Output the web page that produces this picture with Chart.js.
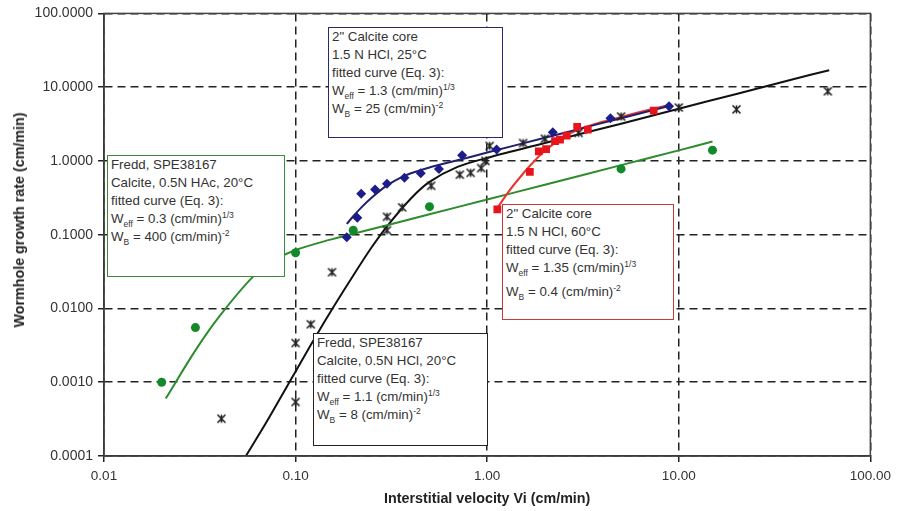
<!DOCTYPE html>
<html>
<head>
<meta charset="utf-8">
<script src="https://cdn.jsdelivr.net/npm/chart.js@4.4.0/dist/chart.umd.min.js"></script>
<style>
body { margin: 0; background: #fff; }
#wrap { position: relative; width: 897px; height: 511px; }
#chart { position: absolute; left: 0; top: 0; }
.note {
    position: absolute;
    background: #fff;
    box-sizing: border-box;
    font: 13.3px "Liberation Sans", Arial, sans-serif;
    color: #333;
    line-height: 18px;
    padding: 0 0 0 3px;
    white-space: nowrap;
}
.note sub, .note sup { font-size: 8.5px; line-height: 0; }
#ytitle {
    position: absolute;
    left: 19px;
    top: 220px;
    transform: translate(-50%, -50%) rotate(-90deg);
    font: bold 14.3px "Liberation Sans", Arial, sans-serif;
    color: #222;
    white-space: nowrap;
}
</style>
</head>
<body>
<div id="wrap">
    <canvas id="chart" width="897" height="511"></canvas>
    <div id="ytitle">Wormhole growth rate (cm/min)</div>
    <div class="note" style="left:107px;top:155px;width:178px;height:122px;border:1.5px solid #3a8a3a;">
        Fredd, SPE38167<br>Calcite, 0.5N HAc, 20°C<br>fitted curve (Eq. 3):<br>
        W<sub>eff</sub> = 0.3 (cm/min)<sup>1/3</sup><br>W<sub>B</sub> = 400 (cm/min)<sup>-2</sup>
    </div>
    <div class="note" style="left:328px;top:27px;width:175px;height:111px;border:1.5px solid #2a2a6a;">
        2" Calcite core<br>1.5 N HCl, 25°C<br>fitted curve (Eq. 3):<br>
        W<sub>eff</sub> = 1.3 (cm/min)<sup>1/3</sup><br>W<sub>B</sub> = 25 (cm/min)<sup>-2</sup>
    </div>
    <div class="note" style="left:502px;top:204px;width:172px;height:116px;border:1.5px solid #c83a3a;">
        2" Calcite core<br>1.5 N HCl, 60°C<br>fitted curve (Eq. 3):<br>
        W<sub>eff</sub> = 1.35 (cm/min)<sup>1/3</sup><br><span style="display:inline-block;margin-top:6px;">W<sub>B</sub> = 0.4 (cm/min)<sup>-2</sup></span>
    </div>
    <div class="note" style="left:313px;top:333px;width:175px;height:113px;border:1.5px solid #222;">
        Fredd, SPE38167<br>Calcite, 0.5N HCl, 20°C<br>fitted curve (Eq. 3):<br>
        W<sub>eff</sub> = 1.1 (cm/min)<sup>1/3</sup><br>W<sub>B</sub> = 8 (cm/min)<sup>-2</sup>
    </div>
</div>
<script>
// axis ticks
const xTicks = [0.01, 0.1, 1, 10, 100];
const yTicks = [0.0001, 0.001, 0.01, 0.1, 1, 10, 100];

// Fredd 0.5N HAc (green)
const hacX = [0.02, 0.03, 0.1, 0.2, 0.5, 5, 15];
const hacY = [0.001, 0.0055, 0.057, 0.115, 0.24, 0.78, 1.4];
const hacFitX = [0.021, 0.03, 0.04, 0.06, 0.08, 0.1, 0.15, 0.2, 0.3, 0.5, 1, 2, 5, 10, 15];
const hacFitY = [0.0006, 0.0027, 0.0078, 0.027, 0.047, 0.062, 0.085, 0.103, 0.134, 0.189, 0.3, 0.476, 0.877, 1.39, 1.83];

// 2" core, 25C (blue)
const c25X = [0.185, 0.21, 0.22, 0.26, 0.3, 0.37, 0.45, 0.56, 0.74, 1.12, 2.2, 4.4, 8.9];
const c25Y = [0.092, 0.17, 0.36, 0.41, 0.49, 0.59, 0.68, 0.78, 1.19, 1.43, 2.45, 3.8, 5.5];
const c25FitX = [0.185, 0.2, 0.22, 0.25, 0.3, 0.35, 0.4, 0.5, 0.7, 1, 2, 3, 5, 9];
const c25FitY = [0.14, 0.178, 0.233, 0.32, 0.467, 0.586, 0.68, 0.816, 1.02, 1.3, 2.06, 2.7, 3.8, 5.6];

// 2" core, 60C (red)
const c60X = [1.13, 1.67, 1.86, 2.03, 2.26, 2.4, 2.6, 2.95, 3.35, 7.4];
const c60Y = [0.22, 0.71, 1.35, 1.45, 1.85, 1.95, 2.2, 2.9, 2.65, 4.8];
const c60FitX = [1.13, 1.3, 1.5, 1.7, 2, 2.5, 3, 4, 5, 7, 9];
const c60FitY = [0.23, 0.39, 0.62, 0.9, 1.37, 2.1, 2.66, 3.39, 3.95, 4.94, 5.8];

// Fredd 0.5N HCl (black)
const hclX = [0.041, 0.1, 0.1, 0.12, 0.155, 0.3, 0.3, 0.36, 0.51, 0.72, 0.82, 0.93, 0.98, 1.03, 1.54, 2.0, 3.0, 5.0, 10, 20, 60];
const hclY = [0.00032, 0.0034, 0.00054, 0.0061, 0.031, 0.175, 0.115, 0.235, 0.46, 0.65, 0.69, 0.8, 1.0, 1.6, 1.75, 2.0, 2.4, 4.0, 5.3, 5.0, 8.8];
const hclFitX = [0.055, 0.07, 0.09, 0.1, 0.12, 0.15, 0.2, 0.25, 0.3, 0.4, 0.5, 0.7, 1, 2, 5, 10, 20, 40, 61];
const hclFitY = [0.0001, 0.00028, 0.00087, 0.0014, 0.0032, 0.0085, 0.028, 0.068, 0.13, 0.31, 0.52, 0.83, 1.1, 1.75, 3.2, 5.1, 8.1, 12.9, 17];

const pts = (xs, ys) => xs.map((x, i) => ({ x: x, y: ys[i] }));

// Excel-like star marker (X with vertical bar)
function starMark(size, color) {
    const c = document.createElement('canvas');
    c.width = size;
    c.height = size;
    const g = c.getContext('2d');
    g.strokeStyle = color;
    g.lineWidth = 1.6;
    const a = 1.5, b = size - 1.5, h = size / 2;
    g.beginPath();
    g.moveTo(a, a); g.lineTo(b, b);
    g.moveTo(b, a); g.lineTo(a, b);
    g.moveTo(h, a); g.lineTo(h, b);
    g.stroke();
    return c;
}

// solid frame round the plot area
const framePlugin = {
    id: 'frame',
    afterDraw(chart) {
        const { ctx, chartArea: a } = chart;
        ctx.save();
        ctx.strokeStyle = '#444';
        ctx.lineWidth = 1.5;
        ctx.strokeRect(a.left, a.top, a.right - a.left, a.bottom - a.top);
        ctx.restore();
    }
};

const markerSet = (label, xs, ys, style, color, radius) => ({
    label: label,
    data: pts(xs, ys),
    showLine: false,
    pointStyle: style,
    pointRadius: radius,
    backgroundColor: color,
    borderColor: color,
    borderWidth: 0
});

const lineSet = (label, xs, ys, color) => ({
    label: label,
    data: pts(xs, ys),
    showLine: true,
    pointRadius: 0,
    borderColor: color,
    borderWidth: 2,
    tension: 0.3,
    fill: false
});

const ctx = document.getElementById('chart').getContext('2d');
new Chart(ctx, {
    type: 'scatter',
    data: {
        datasets: [
            markerSet('25C data', c25X, c25Y, 'rectRot', '#1c1c8c', 5),
            markerSet('60C data', c60X, c60Y, 'rect', '#e8141c', 5.5),
            markerSet('HAc data', hacX, hacY, 'circle', '#128a28', 4.5),
            markerSet('HCl data', hclX, hclY, starMark(11, '#222'), '#222', 5.5),
            lineSet('25C fit', c25FitX, c25FitY, '#20206e'),
            lineSet('60C fit', c60FitX, c60FitY, '#e8332e'),
            lineSet('HAc fit', hacFitX, hacFitY, '#2e8b2e'),
            lineSet('HCl fit', hclFitX, hclFitY, '#111')
        ]
    },
    options: {
        responsive: false,
        animation: false,
        layout: { padding: { top: 9, right: 23, bottom: 0, left: 0 } },
        plugins: {
            legend: { display: false },
            tooltip: { enabled: false }
        },
        scales: {
            x: {
                type: 'logarithmic',
                min: 0.01,
                max: 100,
                afterBuildTicks: s => { s.ticks = xTicks.map(v => ({ value: v })); },
                afterFit: s => { s.height = 55; },
                ticks: {
                    callback: v => Number(v).toFixed(2),
                    font: { family: 'Liberation Sans', size: 13.5 },
                    color: '#333',
                    padding: 6,
                    autoSkip: false,
                    maxRotation: 0
                },
                grid: { color: '#222', lineWidth: 1.5, tickLength: 6, tickColor: '#222', tickBorderDash: [0, 0] },
                border: { color: '#222', width: 1.5, dash: [8, 5] },
                title: {
                    display: true,
                    text: 'Interstitial velocity Vi (cm/min)',
                    font: { family: 'Liberation Sans', size: 14.3, weight: 'bold' },
                    color: '#222',
                    padding: { top: 0, bottom: 3 }
                }
            },
            y: {
                type: 'logarithmic',
                min: 0.0001,
                max: 100,
                afterBuildTicks: s => { s.ticks = yTicks.map(v => ({ value: v })); },
                afterFit: s => { s.width = 104; },
                ticks: {
                    callback: v => Number(v).toFixed(4),
                    font: { family: 'Liberation Sans', size: 14 },
                    color: '#333',
                    padding: 5,
                    autoSkip: false
                },
                grid: { color: '#222', lineWidth: 1.5, tickLength: 6, tickColor: '#222', tickBorderDash: [0, 0] },
                border: { color: '#222', width: 1.5, dash: [8, 5] }
            }
        }
    },
    plugins: [framePlugin]
});
</script>
</body>
</html>
